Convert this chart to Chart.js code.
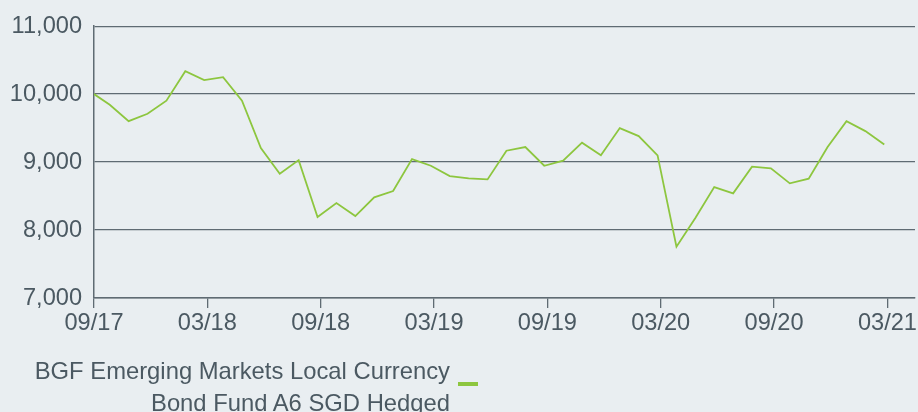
<!DOCTYPE html>
<html>
<head>
<meta charset="utf-8">
<script src="https://cdn.jsdelivr.net/npm/chart.js@4.4.1/dist/chart.umd.min.js"></script>
<style>
  html, body { margin: 0; padding: 0; background: #e9eef1; }
  #wrap { position: relative; width: 918px; height: 412px; overflow: hidden; background: #e9eef1; }
  #c { position: absolute; left: 0; top: 0; }
  #legend { position: absolute; left: 0; top: 355px; width: 450px; text-align: right; white-space: nowrap;
    font-family: "Liberation Sans", Arial, sans-serif; font-size: 23.8px; line-height: 31.7px; color: #4b5962; }
  #marker { position: absolute; left: 458px; top: 381.5px; width: 20px; height: 4px; background: #8dc63f; }
</style>
</head>
<body>
<div id="wrap">
  <canvas id="c" width="918" height="412"></canvas>
  <div id="legend">BGF Emerging Markets Local Currency<br>Bond Fund A6 SGD Hedged</div>
  <div id="marker"></div>
</div>
<script>
const seriesName = "BGF Emerging Markets Local Currency Bond Fund A6 SGD Hedged";

const dates = [
  "2017-09-01",
  "2017-09-26","2017-10-26","2017-11-26","2017-12-26",
  "2018-01-26","2018-02-26","2018-03-26","2018-04-26","2018-05-26","2018-06-26",
  "2018-07-26","2018-08-26","2018-09-26","2018-10-26","2018-11-26","2018-12-26",
  "2019-01-26","2019-02-26","2019-03-26","2019-04-26","2019-05-26","2019-06-26",
  "2019-07-26","2019-08-26","2019-09-26","2019-10-26","2019-11-26","2019-12-26",
  "2020-01-26","2020-02-26","2020-03-26","2020-04-26","2020-05-26","2020-06-26",
  "2020-07-26","2020-08-26","2020-09-26","2020-10-26","2020-11-26","2020-12-26",
  "2021-01-26","2021-02-26"
];

const values = [
  10000,
  9844, 9603, 9711, 9903,
  10338, 10206, 10250, 9903, 9206, 8829,
  9029, 8191, 8397, 8206, 8481, 8574,
  9044, 8946, 8794, 8760, 8745, 9167,
  9221, 8946, 9020, 9285, 9099, 9500,
  9382, 9099, 7755, 8176, 8632, 8540,
  8932, 8907, 8687, 8756, 9221, 9603,
  9456, 9260
];

const tickLabels = ["09/17","03/18","09/18","03/19","09/19","03/20","09/20","03/21"];
const tickDates  = ["2017-09-01","2018-03-01","2018-09-01","2019-03-01","2019-09-01","2020-03-01","2020-09-01","2021-03-01"];

const yTicks = [7000, 8000, 9000, 10000, 11000];

// months since the first date (day fraction within month)
function monthIndex(s) {
  const [y, m, d] = s.split("-").map(Number);
  return (y - 2017) * 12 + (m - 9) + (d - 1) / 30;
}

const points = dates.map((d, i) => ({ x: monthIndex(d), y: values[i] }));
const tickPos = tickDates.map(monthIndex);

const textColor = "#4b5962";
const axisColor = "#5f6b73";
const font = { family: "'Liberation Sans', Arial, sans-serif", size: 23.6 };

new Chart(document.getElementById("c"), {
  type: "line",
  data: {
    datasets: [{
      label: seriesName,
      data: points,
      borderColor: "#8dc63f",
      borderWidth: 1.8,
      pointRadius: 0,
      tension: 0,
      fill: false
    }]
  },
  options: {
    responsive: false,
    animation: false,
    layout: { padding: { top: 26, right: 2, bottom: 74, left: 0 } },
    plugins: { legend: { display: false }, tooltip: { enabled: false } },
    scales: {
      x: {
        type: "linear",
        min: 0,
        max: 43.46,
        afterBuildTicks: (s) => { s.ticks = tickPos.map(v => ({ value: v })); },
        afterFit: (s) => { s.height = 40; },
        ticks: {
          autoSkip: false,
          maxRotation: 0,
          padding: 1,
          color: textColor,
          font: font,
          callback: (v) => {
            const i = tickPos.findIndex(p => Math.abs(p - v) < 1e-6);
            return i >= 0 ? tickLabels[i] : "";
          }
        },
        grid: { drawOnChartArea: false, drawTicks: true, tickLength: 10, color: axisColor, lineWidth: 1.3 },
        border: { display: true, color: axisColor, width: 1.5 }
      },
      y: {
        min: 7000,
        max: 11000,
        afterBuildTicks: (s) => { s.ticks = yTicks.map(v => ({ value: v })); },
        afterFit: (s) => { s.width = 94; },
        ticks: {
          padding: 12,
          color: textColor,
          font: font,
          callback: (v) => v.toLocaleString("en-US")
        },
        grid: { drawTicks: false, color: axisColor, lineWidth: 1.3 },
        border: { display: true, color: axisColor, width: 1.5 }
      }
    }
  }
});
</script>
</body>
</html>
